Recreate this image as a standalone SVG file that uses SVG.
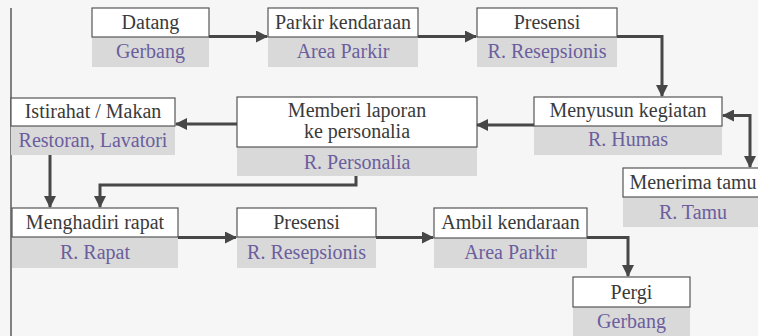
<svg xmlns="http://www.w3.org/2000/svg" width="758" height="336" viewBox="0 0 758 336">
<defs>
<style>
.w{fill:#ffffff;stroke:#555555;stroke-width:1.2}
.g{fill:#d9d9d9}
.t{font-family:"Liberation Serif","Times New Roman",serif;font-size:20px;fill:#3a3a3a;text-anchor:middle}
.p{font-family:"Liberation Serif","Times New Roman",serif;font-size:20px;fill:#6b5e9e;text-anchor:middle}
.c{fill:none;stroke:#474747;stroke-width:3}
</style>
<marker id="ah" viewBox="0 0 12 12" refX="11" refY="6" markerWidth="12" markerHeight="12" markerUnits="userSpaceOnUse" orient="auto-start-reverse">
<path d="M0,0 L12,6 L0,12 Z" fill="#474747"/>
</marker>
</defs>
<rect width="758" height="336" fill="#f6f6f6"/>
<line x1="11" y1="8" x2="11" y2="336" stroke="#333" stroke-width="1.2"/>

<g id="n-datang">
<rect class="g" x="92" y="37" width="117" height="30"/>
<rect class="w" x="92" y="8" width="117" height="29"/>
<text class="t" x="150.5" y="29">Datang</text>
<text class="p" x="150.5" y="58">Gerbang</text>
</g>
<g id="n-parkir">
<rect class="g" x="268" y="37" width="150" height="30"/>
<rect class="w" x="268" y="8" width="150" height="29"/>
<text class="t" x="343" y="29">Parkir kendaraan</text>
<text class="p" x="343" y="58">Area Parkir</text>
</g>
<g id="n-presensi1">
<rect class="g" x="477" y="37" width="140" height="30"/>
<rect class="w" x="477" y="8" width="140" height="29"/>
<text class="t" x="547" y="29">Presensi</text>
<text class="p" x="547" y="58">R. Resepsionis</text>
</g>
<g id="n-menyusun">
<rect class="g" x="534" y="126" width="188" height="29"/>
<rect class="w" x="534" y="97" width="188" height="29"/>
<text class="t" x="628" y="117">Menyusun kegiatan</text>
<text class="p" x="628" y="146">R. Humas</text>
</g>
<g id="n-menerima">
<rect class="g" x="623" y="197" width="140" height="30"/>
<rect class="w" x="623" y="168" width="140" height="29"/>
<text class="t" x="693" y="189">Menerima tamu</text>
<text class="p" x="693" y="219">R. Tamu</text>
</g>
<g id="n-memberi">
<rect class="g" x="237" y="147" width="240" height="29"/>
<rect class="w" x="237" y="97" width="240" height="50"/>
<text class="t" x="357" y="117">Memberi laporan</text>
<text class="t" x="357" y="138">ke personalia</text>
<text class="p" x="357" y="169">R. Personalia</text>
</g>
<g id="n-istirahat">
<rect class="g" x="11" y="126" width="164" height="29"/>
<rect class="w" x="11" y="98" width="164" height="28"/>
<text class="t" x="93" y="118">Istirahat / Makan</text>
<text class="p" x="93" y="147">Restoran, Lavatori</text>
</g>
<g id="n-menghadiri">
<rect class="g" x="12" y="237" width="166" height="31"/>
<rect class="w" x="12" y="208" width="166" height="29"/>
<text class="t" x="95" y="229">Menghadiri rapat</text>
<text class="p" x="95" y="259">R. Rapat</text>
</g>
<g id="n-presensi2">
<rect class="g" x="237" y="237" width="139" height="31"/>
<rect class="w" x="237" y="208" width="139" height="29"/>
<text class="t" x="306.5" y="229">Presensi</text>
<text class="p" x="306.5" y="259">R. Resepsionis</text>
</g>
<g id="n-ambil">
<rect class="g" x="434" y="238" width="153" height="30"/>
<rect class="w" x="434" y="208" width="153" height="30"/>
<text class="t" x="510.5" y="229">Ambil kendaraan</text>
<text class="p" x="510.5" y="259">Area Parkir</text>
</g>
<g id="n-pergi">
<rect class="g" x="573" y="307" width="117" height="29"/>
<rect class="w" x="573" y="277" width="117" height="30"/>
<text class="t" x="631.5" y="299">Pergi</text>
<text class="p" x="631.5" y="328">Gerbang</text>
</g>

<g id="connectors">
<path class="c" d="M209,36.5 H267" marker-end="url(#ah)"/>
<path class="c" d="M418,36.5 H476" marker-end="url(#ah)"/>
<path class="c" d="M617,36.5 H662 V96" marker-end="url(#ah)"/>
<path class="c" d="M723,115.5 H750 V167" marker-start="url(#ah)" marker-end="url(#ah)"/>
<path class="c" d="M534,125 H477" marker-end="url(#ah)"/>
<path class="c" d="M237,124 H176" marker-end="url(#ah)"/>
<path class="c" d="M50,155 V207" marker-end="url(#ah)"/>
<path class="c" d="M356,176 V185 H100 V207" marker-end="url(#ah)"/>
<path class="c" d="M178,237.5 H236" marker-end="url(#ah)"/>
<path class="c" d="M376,237.5 H433" marker-end="url(#ah)"/>
<path class="c" d="M587,237.5 H628 V276" marker-end="url(#ah)"/>
</g>
</svg>
